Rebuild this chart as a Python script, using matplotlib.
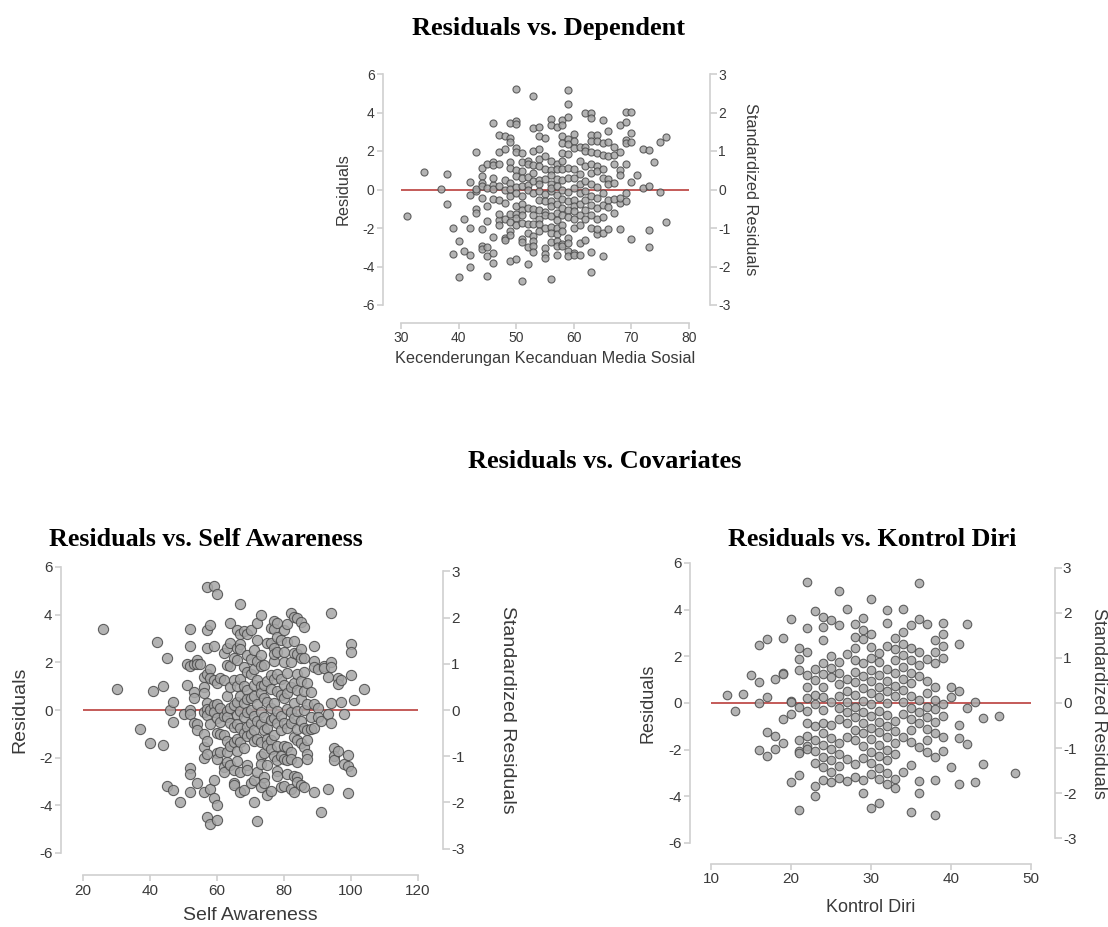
import numpy as np
import matplotlib
matplotlib.use("Agg")
import matplotlib.pyplot as plt

plt.rcParams["font.family"] = ["Liberation Sans", "DejaVu Sans"]
plt.rcParams["axes.unicode_minus"] = False

# ---- data: Residuals vs. Dependent (Kecenderungan Kecanduan Media Sosial) ----
dep_pts = {
    31: [-1.4], 34: [0.9], 37: [0.05], 38: [0.8, -0.75], 39: [-2.0, -3.35],
    40: [-2.7, -4.55], 41: [-1.55, -3.2], 42: [-2.0, -3.4, -4.0, 0.4, -0.3],
    43: [1.95, -1.0, -1.2, -0.1, 0.05],
    44: [1.1, 0.7, 0.35, -0.45, -2.05, -2.95, -3.1, 0.2],
    45: [1.35, -0.85, -1.65, -3.0, -3.45, -4.5, 0.1],
    46: [3.45, 1.45, 1.25, 0.25, -0.5, -2.45, -3.3, -3.8, 0.05, 0.6],
    47: [2.85, 1.95, 1.3, 0.2, -0.55, -1.6, -1.85, -1.25],
    48: [2.8, 2.1, 0.5, -0.05, -0.7, -1.55, -2.5, -2.6],
    49: [3.45, 2.7, 2.45, 1.45, 1.1, 0.35, -0.35, -1.25, -1.7, -2.15, -2.35, -3.7, 0.05],
    50: [5.2, 3.55, 3.4, 2.15, 1.95, 1.0, 0.7, 0.15, -0.85, -1.25, -1.5, -1.85, -3.6, -0.2],
    51: [1.9, 1.45, 0.95, 0.6, -0.35, -0.75, -1.05, -1.3, -1.75, -2.55, -2.75, -4.75, 0.2],
    52: [1.5, 1.35, 0.25, -0.05, -0.95, -1.8, -2.25, -3.0, -3.85, 0.65],
    53: [4.85, 3.2, 2.0, 1.25, 0.85, 0.45, -0.2, -1.0, -1.3, -1.8, -2.4, -2.65, -2.95, -3.25],
    54: [3.25, 2.8, 2.1, 1.6, 1.2, 0.5, -0.1, -0.55, -1.05, -1.55, -1.8, -2.15, 0.3],
    55: [2.65, 1.75, 1.05, 0.55, -0.25, -0.6, -1.15, -1.35, -2.0, -3.05, -3.35, -3.55],
    56: [3.65, 3.35, 1.5, 1.0, 0.75, 0.3, -0.1, -0.6, -0.85, -1.4, -1.95, -2.25, -2.75, -4.65, 0.1],
    57: [3.25, 1.35, 1.05, 0.55, 0.2, -0.3, -0.75, -1.2, -1.6, -2.0, -2.3, -2.7, -2.95, -3.4],
    58: [3.6, 3.35, 2.8, 2.4, 1.9, 1.5, 1.05, 0.5, 0.0, -0.5, -0.95, -1.35, -1.85, -2.15, -2.85, -2.95],
    59: [5.15, 4.45, 3.75, 2.6, 2.35, 1.85, 1.1, 0.6, -0.15, -0.6, -1.05, -1.45, -2.5, -2.8, -3.2, -3.45],
    60: [2.9, 2.5, 2.15, 1.05, 0.6, 0.1, -0.55, -0.85, -1.1, -1.55, -2.0, -3.3, -3.4],
    61: [2.2, 1.5, 0.8, 0.3, -0.2, -0.75, -1.3, -1.85, -2.8, -3.4],
    62: [3.95, 2.2, 1.2, 0.45, -0.1, -0.55, -1.05, -1.55, -2.6, 2.0],
    63: [4.0, 3.7, 2.85, 2.5, 1.95, 1.35, 0.85, 0.3, -0.35, -0.8, -1.3, -2.0, -3.25, -4.3],
    64: [2.85, 2.5, 1.9, 1.2, 0.95, 0.15, -0.45, -0.95, -1.55, -2.3, -2.05],
    65: [3.6, 2.4, 1.8, 1.05, 0.6, -0.2, -0.8, -1.45, -2.25, -3.45],
    66: [3.05, 2.45, 1.75, 0.55, -0.55, -0.9, -2.05, 0.3],
    67: [2.2, 1.35, 0.35, -0.5, -1.2, 1.8],
    68: [3.35, 1.95, 1.0, 0.75, -0.7, -2.05, -0.45],
    69: [4.05, 3.5, 2.55, 2.4, 1.35, -0.2, -0.6],
    70: [4.05, 2.95, 2.45, 0.4, -2.55], 71: [0.75], 72: [2.1, 0.1],
    73: [2.05, 0.2, -2.1, -3.0], 74: [1.45], 75: [2.45, -0.15], 76: [2.75, -1.7],
}

# ---- data: Residuals vs. Self Awareness ----
sa_pts = {
    26: [3.4], 30: [0.9], 37: [-0.8], 40: [-1.4], 41: [0.8], 42: [2.85],
    44: [1.0, -1.45], 45: [2.2, -3.2], 46: [0.0], 47: [0.35, -0.5, -3.35], 49: [-3.85],
    50: [-0.15], 51: [1.95, 1.05],
    52: [3.4, 2.7, 1.85, 0.0, -0.15, -2.45, -2.7, -3.45],
    53: [0.75, 0.5, -0.55, 1.95], 54: [2.1, 1.95, -0.6, -0.85, -3.05], 55: [1.95],
    56: [1.4, 0.95, 0.7, -0.1, -1.0, -1.55, -2.0, -3.45],
    57: [5.15, 3.35, 2.6, 1.5, 0.3, 0.05, -0.2, -1.3, -1.85, -4.5],
    58: [3.55, 1.7, 1.35, 0.0, -0.6, -3.3, -4.8],
    59: [5.2, 2.7, 1.25, 0.2, -0.1, -2.95, -3.7],
    60: [4.85, 1.15, 0.25, -0.35, -0.95, -1.8, -2.05, -4.0, -4.6],
    61: [1.35, 0.1, -0.5, -1.0, -1.75],
    62: [2.4, 1.25, -0.25, -1.05, -2.4, -2.6],
    63: [2.6, 1.9, 0.6, -0.05, -1.3, -1.75, -2.2, -0.3],
    64: [3.65, 2.8, 1.85, 0.95, 0.1, -0.55, -2.3, -1.5],
    65: [2.2, 1.25, 0.2, -0.7, -1.35, -2.5, -3.05, -3.15],
    66: [3.35, 2.6, 2.1, 1.0, 0.35, -0.2, -0.6, -1.2, -1.7, -2.15],
    67: [4.45, 3.2, 2.75, 2.55, 1.3, 0.6, -0.05, -0.75, -1.35, -2.6, -3.45],
    68: [3.3, 1.8, 1.0, 0.3, -0.3, -0.95, -1.6, -3.35],
    69: [3.2, 2.3, 1.6, 0.85, 0.45, -0.1, -0.7, -1.1, -2.3, -2.5],
    70: [3.35, 2.15, 1.5, 0.5, 0.0, -0.55, -1.0, -3.05],
    71: [2.5, 1.7, 1.05, 0.6, -0.25, -0.85, -1.3, -2.95, -3.85],
    72: [3.65, 2.95, 2.05, 1.25, 0.25, -0.45, -1.2, -2.6, -4.65],
    73: [4.0, 2.3, 1.85, 1.0, 0.7, -0.1, -0.6, -1.35, -1.95, -2.25, -3.25],
    74: [1.9, 1.05, 0.5, -0.3, -0.85, -1.8, -2.8, -3.05],
    75: [2.8, 1.2, 0.35, -0.75, -1.2, -1.45, -2.3, -3.55],
    76: [3.45, 2.8, 1.45, 0.9, 0.1, -0.4, -1.25, -1.65, -3.4],
    77: [3.75, 3.4, 2.6, 2.05, 1.3, 0.3, -0.35, -1.05, -1.95, 2.35],
    78: [3.65, 3.05, 2.45, 1.5, 0.8, -0.05, -0.55, -1.5, -2.1, -2.55, -2.75],
    79: [2.95, 1.3, 0.65, -0.25, -0.85, -1.95, -3.25],
    80: [3.35, 2.45, 2.0, 1.05, 0.5, -0.55, -1.5, -2.05, -3.2],
    81: [3.6, 2.85, 1.55, 0.7, 0.05, -0.75, -1.55, -2.1, -2.7],
    82: [4.05, 2.0, 0.95, -0.1, -0.55, -1.75, -2.05, -3.3],
    83: [3.9, 2.9, 2.4, 1.15, 0.3, -0.35, -1.15, -2.75, -3.45],
    84: [3.85, 2.35, 1.5, 0.85, -0.05, -0.8, -1.25, -2.2, -2.8, -3.0],
    85: [3.7, 2.55, 2.2, 1.2, 0.45, -0.45, -1.4, -3.15],
    86: [3.5, 2.2, 1.6, 0.8, 0.0, -0.75, -1.55, -3.25],
    87: [1.15, 0.25, -0.85, -1.25, -1.85, -2.05], 88: [0.75, -0.3, -0.8],
    89: [2.7, 2.05, 1.8, 0.25, -0.75, -3.45], 90: [1.7, 0.1, -0.3], 91: [-0.45, -4.3],
    92: [1.85, 1.75], 93: [1.4, -0.15, -3.3], 94: [4.05, 2.0, 1.8, 0.3, -0.55],
    95: [-1.6, -1.95, -2.1], 96: [1.35, 1.1, -1.7], 97: [1.25, 0.35], 98: [-0.15, -2.25],
    99: [-1.9, -2.35, -3.5], 100: [2.75, 2.45, 1.45, -2.55], 101: [0.4], 104: [0.9],
}

# ---- data: Residuals vs. Kontrol Diri ----
kd_pts = {
    12: [0.35], 13: [-0.35], 14: [0.4], 15: [1.2], 16: [2.5, 0.9, 0.0, -2.0],
    17: [2.75, 0.25, -1.25, -2.25], 18: [1.05, -1.4, -1.95],
    19: [2.8, 1.3, 1.25, -0.7, -1.7], 20: [3.6, 0.1, 0.05, -0.45, -3.4],
    21: [2.35, 1.9, 1.4, -0.15, -1.6, -2.05, -2.15, -3.1, -4.6],
    22: [5.2, 3.2, 2.2, 1.2, 0.7, 0.2, -0.35, -0.85, -1.4, -1.85, -1.95],
    23: [3.95, 1.45, 1.0, 0.35, -0.05, -1.0, -1.6, -2.05, -2.55, -3.55, -4.0],
    24: [3.7, 3.25, 2.7, 1.7, 1.25, 0.7, 0.25, -0.3, -0.85, -1.3, -1.8, -2.3, -2.75, -3.3],
    25: [3.55, 2.0, 1.5, 1.1, 0.05, -0.95, -1.5, -1.95, -2.45, -2.95, -3.4],
    26: [4.8, 3.35, 1.75, 1.3, 0.8, 0.3, -0.2, -0.7, -1.7, -2.2, -2.7, -3.2],
    27: [4.05, 2.1, 1.05, 0.5, 0.05, -0.4, -0.85, -1.45, -2.4, -3.35],
    28: [3.4, 2.85, 2.35, 1.85, 1.35, 0.9, 0.35, -0.15, -0.6, -1.15, -1.6, -2.6, -3.15],
    29: [3.65, 3.15, 2.75, 1.7, 1.15, 0.65, 0.1, -0.4, -0.85, -1.3, -1.85, -2.35, -3.3, -3.85],
    30: [4.45, 2.95, 2.4, 1.95, 1.4, 0.95, 0.45, -0.05, -0.55, -1.05, -1.55, -2.1, -2.55, -3.05, -4.5],
    31: [2.15, 1.75, 1.2, 0.7, 0.25, -0.35, -0.8, -1.25, -1.8, -2.25, -2.8, -3.25, -4.3],
    32: [4.0, 3.45, 2.45, 1.45, 0.95, 0.5, 0.0, -0.5, -1.0, -1.45, -2.0, -2.45, -3.0, -3.45],
    33: [2.8, 2.3, 1.85, 1.3, 0.75, 0.3, -0.75, -1.2, -1.7, -2.2, -3.25, -3.65],
    34: [4.05, 3.05, 2.55, 2.05, 1.55, 1.05, 0.55, 0.05, -0.45, -1.45, -2.95],
    35: [3.35, 2.35, 1.85, 1.3, 0.85, 0.3, -0.2, -0.7, -1.15, -1.65, -2.65, -4.65],
    36: [5.15, 3.6, 2.2, 1.65, 1.15, 0.15, -0.4, -0.85, -1.9, -3.35, -3.85],
    37: [3.4, 1.9, 0.95, 0.45, -0.15, -0.6, -1.1, -1.6, -2.1],
    38: [2.7, 2.2, 1.7, 0.7, 0.15, -0.25, -0.8, -1.3, -2.3, -3.3, -4.8],
    39: [3.45, 2.95, 2.45, 1.95, -0.05, -0.55, -1.45, -2.05],
    40: [0.7, 0.25, -2.75], 41: [2.55, 0.5, -0.95, -1.5, -3.45], 42: [3.4, -0.2, -1.75],
    43: [0.05, -3.4], 44: [-0.65, -2.6], 46: [-0.55], 48: [-3.0],
}


def flatten(d):
    xs, ys = [], []
    for k, v in d.items():
        xs += [k] * len(v)
        ys += v
    return np.array(xs, float), np.array(ys, float)


W, H = 1108, 927
fig = plt.figure(figsize=(W / 100, H / 100), dpi=100)

SPINE = "#cfcfcf"
TXT = "#3a3a3a"


def panel(rect, pts, xticks, xlabel, sigma, ms, tfs, lfs, off, lx, rx, xly):
    x, y = flatten(pts)
    l, b, r, t = rect
    ax = fig.add_axes([l / W, 1 - b / H, (r - l) / W, (b - t) / H])
    ax.set_xlim(xticks[0], xticks[-1])
    ax.set_ylim(-6, 6)
    ax.plot([xticks[0], xticks[-1]], [0, 0], color="#c45a58", lw=1.4, zorder=1)
    ax.scatter(x, y, s=ms, facecolor="#a6a6a6", edgecolor="#4a4a4a",
               linewidth=0.8, alpha=0.85, zorder=2, clip_on=False)
    for s in ["top", "right"]:
        ax.spines[s].set_visible(False)
    ax.spines["left"].set_position(("outward", off))
    ax.spines["bottom"].set_position(("outward", off))
    ax.spines["left"].set_bounds(-6, 6)
    ax.spines["bottom"].set_bounds(xticks[0], xticks[-1])
    for s in ["left", "bottom"]:
        ax.spines[s].set_color(SPINE)
        ax.spines[s].set_linewidth(1.2)
    ax.set_xticks(xticks)
    ax.set_yticks([-6, -4, -2, 0, 2, 4, 6])
    ax.tick_params(colors=SPINE, labelcolor=TXT, labelsize=tfs, length=4,
                   width=1.2, pad=2)
    ax.set_xlabel(xlabel, fontsize=lfs, color=TXT)
    ax.set_ylabel("Residuals", fontsize=lfs, color=TXT)
    ax.yaxis.set_label_coords(lx, 0.5)
    ax.xaxis.set_label_coords(0.5, xly)

    ax2 = ax.twinx()
    ax2.set_ylim(-6 / sigma, 6 / sigma)
    for s in ["top", "left", "bottom"]:
        ax2.spines[s].set_visible(False)
    ax2.spines["right"].set_position(("outward", off + 2))
    ax2.spines["right"].set_bounds(-3, 3)
    ax2.spines["right"].set_color(SPINE)
    ax2.spines["right"].set_linewidth(1.2)
    ax2.set_yticks([-3, -2, -1, 0, 1, 2, 3])
    ax2.tick_params(colors=SPINE, labelcolor=TXT, labelsize=tfs, length=5,
                    width=1.2, pad=1)
    ax2.set_ylabel("Standardized Residuals", fontsize=lfs, color=TXT,
                   rotation=270, va="center")
    ax2.yaxis.set_label_coords(rx, 0.5)
    return ax


panel((401, 305, 689, 74), dep_pts, [30, 40, 50, 60, 70, 80],
      "Kecenderungan Kecanduan Media Sosial", 2.0, 26, 10, 11.7, 13,
      -0.174, 1.212, -0.20)
panel((83, 853, 418, 567), sa_pts, [20, 40, 60, 80, 100, 120],
      "Self Awareness", 1.94, 54, 11, 14, 16,
      -0.164, 1.268, -0.19)
panel((711, 843, 1031, 563), kd_pts, [10, 20, 30, 40, 50],
      "Kontrol Diri", 1.93, 38, 11, 13, 15,
      -0.169, 1.212, -0.20)

tkw = dict(family=["Liberation Serif", "DejaVu Serif"], weight="bold",
           ha="center", va="center", color="black")
fig.text(548 / W, 1 - 28 / H, "Residuals vs. Dependent", fontsize=19, **tkw)
fig.text(605 / W, 1 - 461 / H, "Residuals vs. Covariates", fontsize=19, **tkw)
fig.text(206 / W, 1 - 540 / H, "Residuals vs. Self Awareness", fontsize=18.7, **tkw)
fig.text(872 / W, 1 - 540 / H, "Residuals vs. Kontrol Diri", fontsize=18.7, **tkw)

fig.savefig("out.png", dpi=100)
plt.close(fig)
